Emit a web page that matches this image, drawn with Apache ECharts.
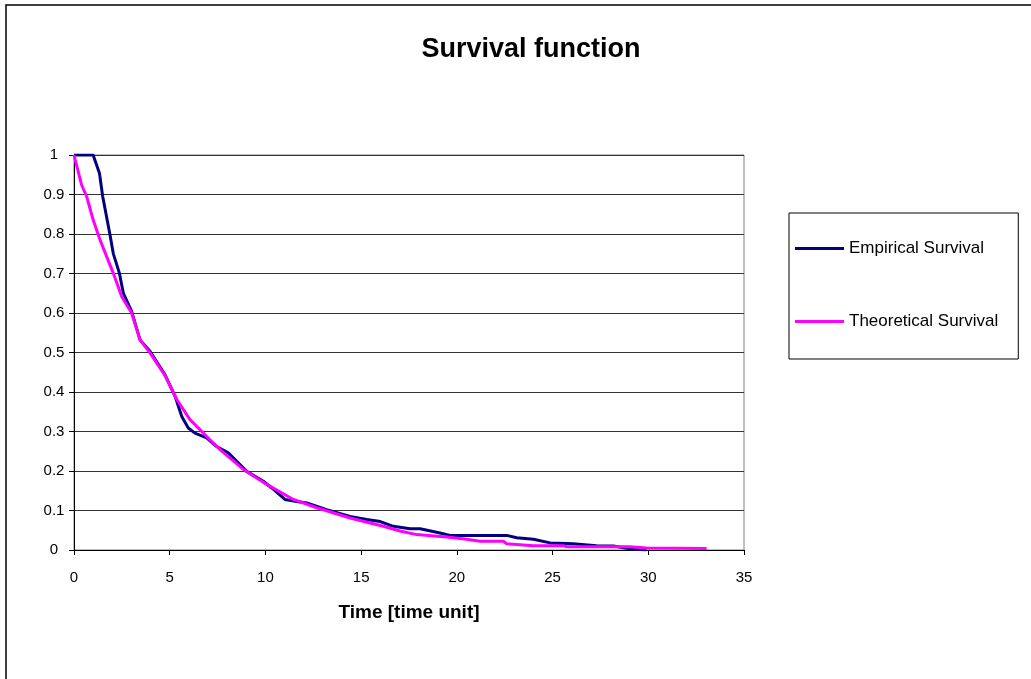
<!DOCTYPE html>
<html>
<head>
<meta charset="utf-8">
<script src="https://cdn.jsdelivr.net/npm/echarts@6/dist/echarts.min.js"></script>
<style>html,body{margin:0;padding:0;background:#fff;}#c{width:1031px;height:679px;}</style>
</head>
<body>
<div id="c"></div>
<script>
const titleText = 'Survival function';
const xAxisName = 'Time [time unit]';
const seriesNames = ['Empirical Survival', 'Theoretical Survival'];
const xTicks = [0, 5, 10, 15, 20, 25, 30, 35];
const yTicks = [0, 0.1, 0.2, 0.3, 0.4, 0.5, 0.6, 0.7, 0.8, 0.9, 1];

const empT = [0, 1.0, 1.33, 1.5, 1.88, 2.05, 2.37, 2.58, 3.01, 3.45, 3.97, 4.75, 5.28, 5.63, 5.97, 6.32, 6.93, 7.45, 8.06, 8.41, 9.02, 9.89, 10.33, 11.02, 11.63, 12.16, 13.2, 14.42, 15.29, 16.0, 16.68, 17.55, 18.08, 19.12, 19.64, 22.6, 23.13, 24.0, 24.87, 26.07, 27.3, 28.17, 29.04, 29.9];
const empV = [1, 1, 0.954, 0.895, 0.798, 0.751, 0.701, 0.650, 0.604, 0.532, 0.503, 0.444, 0.389, 0.338, 0.309, 0.296, 0.284, 0.262, 0.246, 0.229, 0.199, 0.174, 0.157, 0.128, 0.123, 0.119, 0.102, 0.085, 0.077, 0.072, 0.060, 0.054, 0.054, 0.043, 0.037, 0.037, 0.031, 0.027, 0.018, 0.016, 0.011, 0.010, 0.003, 0.0];

const theoT = [0, 0.05, 0.40, 0.66, 1.0, 1.36, 2.05, 2.49, 3.01, 3.45, 3.97, 4.75, 5.37, 6.06, 7.1, 7.63, 8.85, 10.07, 11.46, 12.68, 14.42, 16.16, 17.03, 17.9, 19.47, 20.51, 21.21, 22.43, 22.6, 24.0, 25.57, 25.74, 29.04, 29.9, 33.05];
const theoV = [1, 0.99, 0.924, 0.895, 0.836, 0.785, 0.701, 0.642, 0.600, 0.532, 0.499, 0.442, 0.381, 0.330, 0.279, 0.254, 0.204, 0.166, 0.128, 0.107, 0.081, 0.060, 0.048, 0.039, 0.033, 0.027, 0.022, 0.022, 0.016, 0.011, 0.011, 0.008, 0.008, 0.005, 0.004];

const zip = (a, b) => a.map((v, i) => [v, b[i]]);
const FONT = 'Liberation Sans, Arial, sans-serif';

const chart = echarts.init(document.getElementById('c'), null, {renderer: 'canvas'});
chart.setOption({
  animation: false,
  backgroundColor: '#fff',
  title: {
    text: titleText,
    left: 526,
    textAlign: 'center',
    top: 31,
    textStyle: {fontFamily: FONT, fontSize: 27, fontWeight: 'bold', color: '#000'}
  },
  graphic: [
    {type: 'polyline', shape: {points: [[6, 700], [6, 5], [1100, 5]]}, style: {stroke: '#000', lineWidth: 1.5, fill: null}, silent: true}
  ],
  legend: {
    orient: 'vertical',
    left: 789,
    top: 213,
    padding: [27, 20, 29, 6],
    itemGap: 56,
    itemWidth: 49,
    itemHeight: 3,
    icon: 'rect',
    borderColor: '#000',
    borderWidth: 1,
    textStyle: {fontFamily: FONT, fontSize: 17, color: '#000'},
    data: seriesNames
  },
  grid: {
    left: 74, top: 155, width: 670, height: 395,
    show: true, borderColor: '#808080', borderWidth: 1, backgroundColor: 'transparent',
    containLabel: false
  },
  xAxis: {
    type: 'value', min: 0, max: 35, interval: 5,
    name: xAxisName, nameLocation: 'middle', nameGap: 53,
    nameTextStyle: {fontFamily: FONT, fontSize: 19, fontWeight: 'bold', color: '#000'},
    axisLine: {show: true, onZero: false, lineStyle: {color: '#000', width: 1}},
    axisTick: {show: true, inside: false, length: 5, lineStyle: {color: '#000'}},
    axisLabel: {margin: 20, fontFamily: FONT, fontSize: 15, color: '#000',
      formatter: v => xTicks.includes(v) ? String(v) : ''},
    splitLine: {show: false}
  },
  yAxis: {
    type: 'value', min: 0, max: 1, interval: 0.1,
    axisLine: {show: true, lineStyle: {color: '#000', width: 1}},
    axisTick: {show: true, inside: false, length: 5, lineStyle: {color: '#000'}},
    axisLabel: {margin: 20, align: 'center', fontFamily: FONT, fontSize: 15, color: '#000',
      formatter: v => { const t = yTicks.find(y => Math.abs(y - v) < 1e-9); return t === undefined ? '' : String(t); }},
    splitLine: {show: true, lineStyle: {color: '#333', width: 1}}
  },
  series: [
    {name: seriesNames[0], type: 'line', data: zip(empT, empV), showSymbol: false, symbol: 'none',
      lineStyle: {color: '#000080', width: 3}, itemStyle: {color: '#000080'}, z: 3},
    {name: seriesNames[1], type: 'line', data: zip(theoT, theoV), showSymbol: false, symbol: 'none',
      lineStyle: {color: '#FF00FF', width: 3}, itemStyle: {color: '#FF00FF'}, z: 4}
  ]
});
</script>
</body>
</html>
